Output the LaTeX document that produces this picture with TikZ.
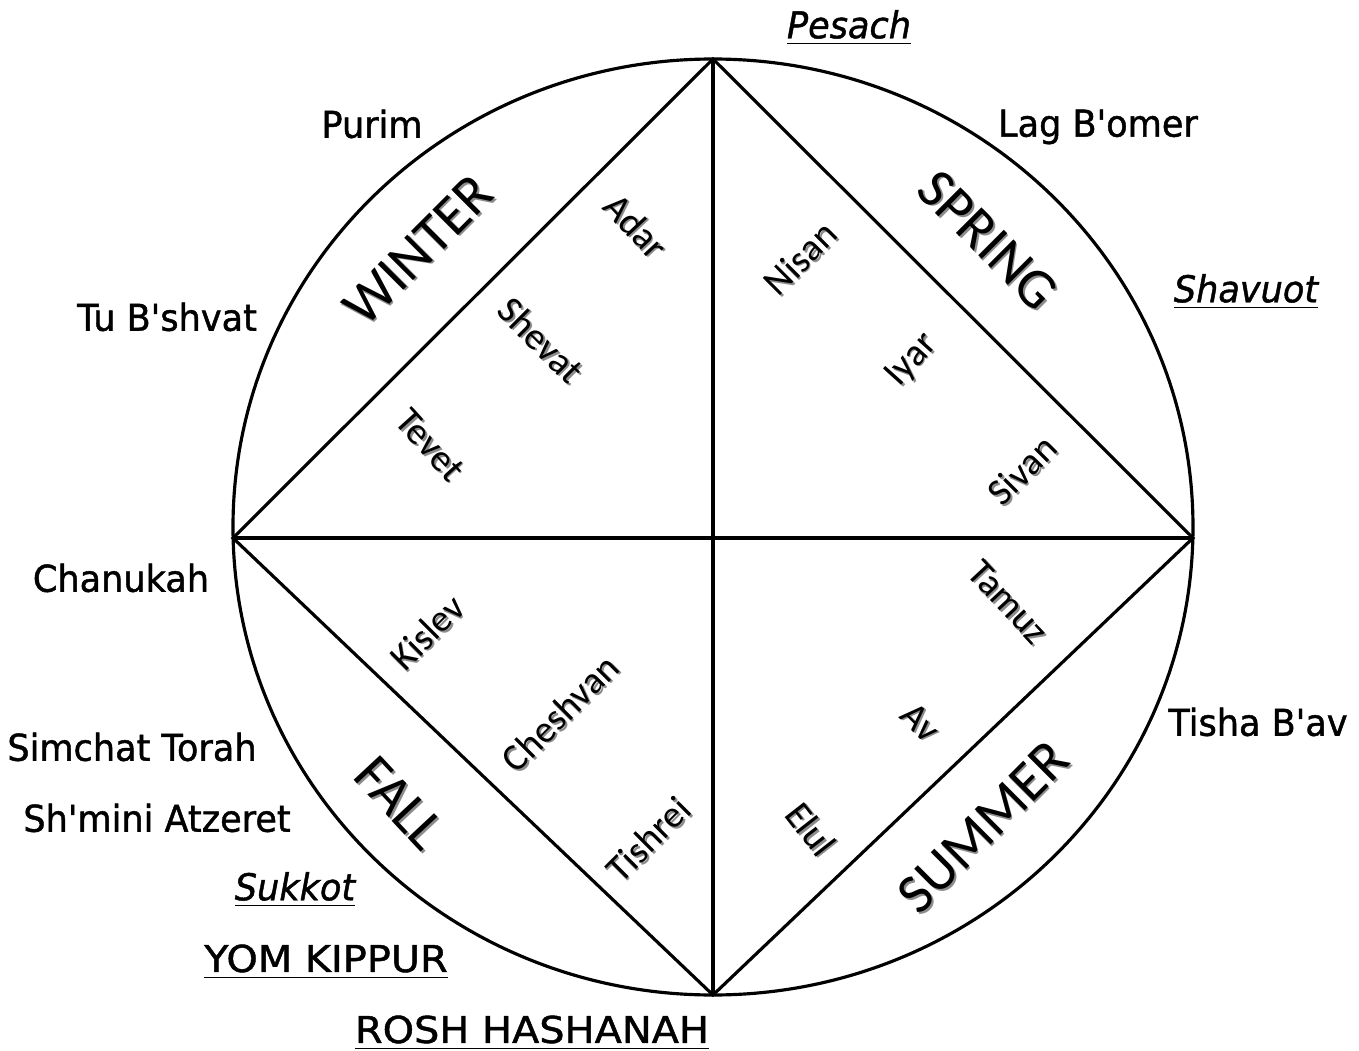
\documentclass[tikz,border=0pt]{standalone}
\usepackage{fontspec}
\setmainfont{Carlito}
\newfontfamily\holfont[FakeStretch=0.95,FakeBold=1.2]{DejaVu Sans}
\newfontfamily\holcaps[FakeStretch=1.08,FakeBold=1.2]{DejaVu Sans}
\usetikzlibrary{positioning,calc}

\tikzset{
  holiday/.style={font=\holfont\fontsize{10.5}{12}\selectfont, inner sep=0pt},
  holidaycaps/.style={font=\holcaps\fontsize{10.5}{12}\selectfont, inner sep=0pt},
  month/.style={font=\fontsize{10.8}{12}\selectfont, inner sep=0pt},
  season/.style={font=\fontsize{16}{18}\selectfont, inner sep=0pt},
  rim/.style={line width=0.9pt},
}
% text with a grey drop shadow
\newcommand\shlabel[5]{%
  \node[#1,rotate=#3,text=black!45] at ($(#2)+(1.8,1.8)$) {#5};
  \node[#1,rotate=#3] (#4) at (#2) {#5};}

\begin{document}
\begin{tikzpicture}[x=0.01cm,y=-0.01cm]
  \useasboundingbox (0,0) rectangle (1359,1051);
  \coordinate (top) at (713,59);
  \coordinate (bot) at (713,995);
  \coordinate (lft) at (233,538);
  \coordinate (rgt) at (1193,538);

  \draw[rim] (713,527) ellipse [x radius=480, y radius=468];
  \draw[rim] (top) -- (rgt) -- (bot) -- (lft) -- cycle;
  \draw[rim] (top) -- (bot);
  \draw[rim] (lft) -- (rgt);

  \shlabel{season}{418,250}{45}{winter}{WINTER}
  \shlabel{season}{988,240}{-45}{spring}{SPRING}
  \shlabel{season}{400,803}{-47}{fall}{FALL}
  \shlabel{season}{983,827}{45}{summer}{SUMMER}

  \shlabel{month}{636,226}{-47}{adar}{Adar}
  \shlabel{month}{541,340}{-45}{shevat}{Shevat}
  \shlabel{month}{430,445}{-48}{tevet}{Tevet}
  \shlabel{month}{800,258}{45}{nisan}{Nisan}
  \shlabel{month}{912,360}{48}{iyar}{Iyar}
  \shlabel{month}{1022,470}{45}{sivan}{Sivan}
  \shlabel{month}{427,632}{45}{kislev}{Kislev}
  \shlabel{month}{560,713}{45}{cheshvan}{Cheshvan}
  \shlabel{month}{648,839}{45}{tishrei}{Tishrei}
  \shlabel{month}{1008,602}{-47}{tamuz}{Tamuz}
  \shlabel{month}{921,722}{-45}{av}{Av}
  \shlabel{month}{811,829}{-52}{elul}{Elul}

  \node[holiday] (pesach) at (849,28) {\underline{\itshape Pesach}};
  \node[holiday] (purim) at (372,124) {Purim};
  \node[holiday] (lagbomer) at (1098,127) {Lag B'omer};
  \node[holiday] (tubshvat) at (167,317) {Tu B'shvat};
  \node[holiday] (shavuot) at (1246,292) {\underline{\itshape Shavuot}};
  \node[holiday] (chanukah) at (121,578) {Chanukah};
  \node[holiday] (tishabav) at (1258,722) {Tisha B'av};
  \node[holiday] (simchat) at (132,747) {Simchat Torah};
  \node[holiday] (shmini) at (157,818) {Sh'mini Atzeret};
  \node[holiday] (sukkot) at (295,890) {\underline{\itshape Sukkot}};
  \node[holidaycaps] (yomkippur) at (326,962) {\underline{YOM KIPPUR}};
  \node[holidaycaps] (roshhashanah) at (532,1033) {\underline{ROSH HASHANAH}};
\end{tikzpicture}
\end{document}
